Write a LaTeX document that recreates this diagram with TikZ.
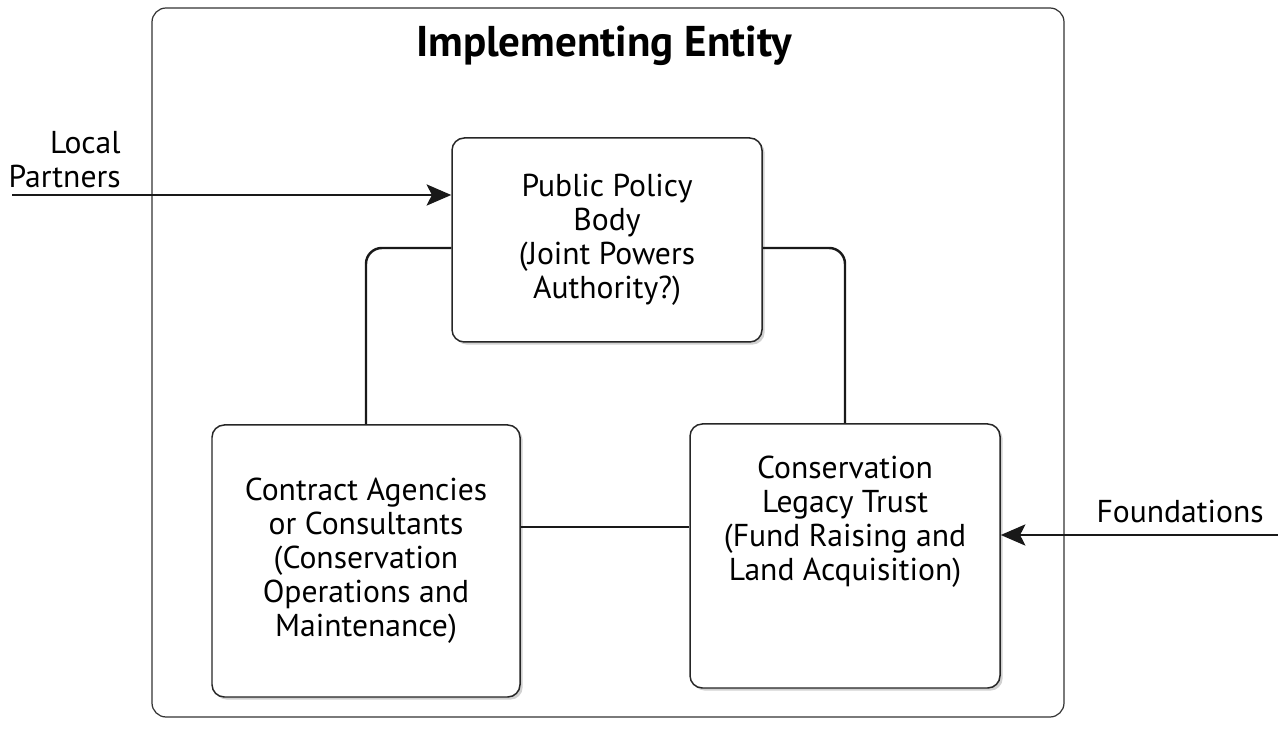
\documentclass[tikz,border=0pt]{standalone}
\usepackage{fontspec}
\setmainfont{PT Sans}
\usetikzlibrary{arrows.meta, positioning, shadows}

\begin{document}
\begin{tikzpicture}[
		x=0.02cm, y=-0.02cm,
		font=\fontsize{18}{19.4}\selectfont,
		>={Stealth[length=14pt, width=12pt, inset=3pt]},
		frame/.style = {draw=black!80, line width=0.7pt, rounded corners=8pt},
		box/.style = {draw=black!85, line width=0.85pt, rounded corners=7pt, fill=white, align=center,
			drop shadow={shadow xshift=1.5pt, shadow yshift=-1.5pt, opacity=0.18, fill=black}},
		link/.style = {draw=black!90, line width=1.4pt, rounded corners=9pt},
		feed/.style = {->, draw=black!90, line width=1.5pt},
		tag/.style = {align=right, inner sep=0pt}
		]
		
		\useasboundingbox (0,0) rectangle (1278,732);
		
		% Implementing entity frame and heading
		\draw [frame] (152,8) rectangle (1064,717);
		\node [font=\fontsize{24.5}{28}\selectfont\bfseries] (title) at (604,46) {Implementing Entity};
		
		%% -- Member bodies -------------------------------------------------
		\node [box, minimum width=310*0.02cm, minimum height=204*0.02cm] (policy) at (607,240)
		{Public Policy\\Body\\(Joint Powers\\Authority?)};
		\node [box, minimum width=308*0.02cm, minimum height=272*0.02cm] (agency) at (366,561)
		{Contract Agencies\\or Consultants\\(Conservation\\Operations and\\Maintenance)};
		\node [box, minimum width=310*0.02cm, minimum height=264*0.02cm] (trust) at (845,556) {};
		\node [align=center] (trusttext) at (845,522)
		{Conservation\\Legacy Trust\\(Fund Raising and\\Land Acquisition)};
		
		%% -- Links between bodies ------------------------------------------
		\draw [link] (policy.west |- 0,248) -| (agency.north);
		\draw [link] (policy.east |- 0,248) -| (trust.north);
		\draw [link] (agency.east |- 0,527) -- (trust.west |- 0,527);
		
		%% -- Outside partners ----------------------------------------------
		\coordinate (lpstart) at (12,195);
		\coordinate (fdstart) at (1278,535);
		\draw [feed] (lpstart) -- (policy.west |- lpstart);
		\draw [feed] (fdstart) -- (trust.east |- fdstart);
		\node [tag, anchor=south east] (partners) at (121,188) {Local\\Partners};
		\node [tag, anchor=south east] (foundations) at (1264,523) {Foundations};
		
	\end{tikzpicture}
\end{document}
